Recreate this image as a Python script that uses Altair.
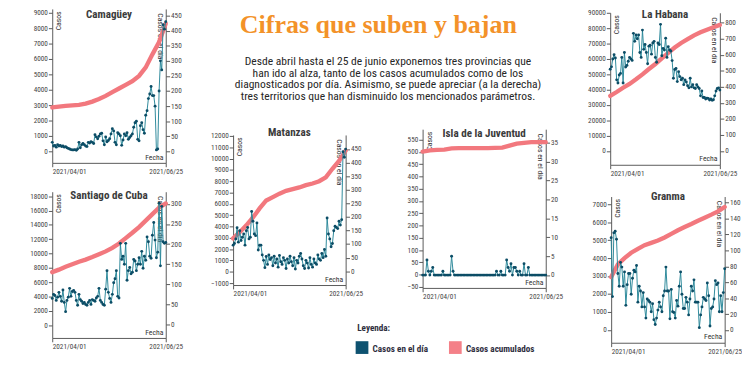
import altair as alt
import pandas as pd

START = "2021-04-01"
END = "2021-06-25"
CUM_EVERY = 5  # days between cumulative readings

# ---------------- data ----------------
cam_daily = [30, 18, 20, 14, 22, 18, 20, 16, 18, 14,
             16, 12, 10, 8, 6, 5, 5, 6, 4, 8,
             30, 12, 22, 26, 22, 18, 16, 30, 28, 32,
             30, 26, 55, 48, 42, 50, 58, 60, 35, 22,
             48, 32, 36, 42, 58, 75, 68, 30, 22, 62,
             58, 52, 20, 38, 58, 52, 62, 40, 46, 52,
             58, 80, 95, 100, 40, 35, 85, 95, 72, 60,
             120, 135, 175, 190, 215, 185, 185, 150, 5, 8,
             200, 300, 270, 420, 405, 430]
cam_cum = [2850, 2900, 2950, 2990, 3020, 3100, 3230, 3400, 3600, 3850,
           4080, 4320, 4560, 4900, 5450, 6300, 7100, 8300]

sant_daily = [65, 75, 72, 60, 68, 80, 70, 58, 86, 55,
              32, 60, 68, 90, 70, 82, 85, 80, 60, 48,
              75, 62, 58, 52, 55, 50, 48, 55, 60, 50,
              62, 60, 58, 66, 70, 90, 60, 55, 50, 48,
              88, 134, 80, 65, 55, 75, 104, 114, 134, 70,
              66, 202, 162, 170, 150, 202, 110, 134, 142, 126,
              130, 162, 158, 134, 150, 166, 150, 182, 140, 170,
              160, 218, 206, 170, 165, 222, 254, 210, 166, 180,
              302, 146, 294, 206, 202, 204]
sant_cum = [7400, 7750, 8150, 8500, 8850, 9150, 9500, 9900, 10300, 10800,
            11400, 12150, 12900, 13700, 14600, 15500, 16400, 17000]

mat_daily = [96, 102, 119, 160, 107, 149, 113, 125, 137, 96,
             149, 161, 119, 125, 220, 184, 137, 131, 178, 78,
             96, 96, 60, 40, 13, 54, 25, 60, 43, 50,
             20, 55, 30, 45, 15, 58, 35, 25, 50, 40,
             10, 45, 30, 55, 35, 20, 50, 8, 40, 30,
             55, 65, 45, 20, 10, 40, 30, 12, 50, 25,
             15, 45, 30, 25, 60, 45, 40, 65, 50, 80,
             55, 196, 137, 119, 90, 102, 149, 166, 161, 157,
             184, 170, 190, 440, 420, 450]
mat_cum = [2950, 3500, 4100, 4800, 5600, 6300, 6600, 6900, 7150, 7300,
           7450, 7650, 7800, 8000, 8350, 9100, 9800, 10700]

isla_daily = [0, 0, 0, 4, 1, 0, 1, 2, 0, 0,
              0, 0, 0, 0, 1, 0, 0, 0, 0, 0,
              5, 1, 0, 0, 0, 0, 0, 0, 0, 0,
              0, 0, 0, 0, 0, 0, 0, 0, 0, 0,
              0, 0, 0, 0, 0, 0, 0, 0, 0, 0,
              0, 1, 0, 0, 1, 0, 0, 0, 4, 2,
              1, 3, 0, 2, 2, 1, 0, 1, 0, 0,
              3, 0, 0, 2, 0, 0, 0, 0, 0, 0,
              0, 0, 0, 0, 0, 0]
isla_cum = [502, 507, 509, 510, 515, 516, 516, 516, 516, 516,
            517, 518, 526, 534, 537, 540, 540, 540]

hab_daily = [510, 525, 574, 600, 580, 444, 424, 474, 484, 584,
             424, 614, 524, 534, 560, 584, 575, 565, 734, 684,
             724, 700, 724, 614, 584, 754, 634, 664, 614, 544,
             654, 660, 604, 674, 684, 584, 554, 674, 664, 790,
             594, 640, 630, 704, 584, 650, 630, 624, 564, 454,
             508, 515, 433, 494, 464, 444, 454, 414, 444, 430,
             407, 394, 454, 400, 414, 394, 390, 414, 400, 390,
             344, 374, 334, 334, 324, 330, 328, 318, 325, 316,
             320, 344, 374, 390, 394, 380]
hab_cum = [36000, 38500, 41300, 43800, 46800, 50000, 53500, 56800, 60500, 64000,
           67500, 70500, 73000, 75500, 77500, 79200, 80800, 82300]

gran_daily = [116, 42, 122, 124, 114, 71, 55, 85, 79, 55,
              73, 31, 57, 71, 71, 45, 65, 75, 73, 81,
              35, 55, 49, 29, 47, 29, 15, 39, 37, 35,
              23, 33, 13, 7, 15, 25, 35, 29, 23, 43,
              49, 79, 49, 49, 14, 51, 23, 22, 15, 37,
              30, 55, 73, 45, 27, 27, 41, 35, 19, 39,
              55, 49, 63, 35, 35, 35, 3, 19, 29, 41,
              39, 37, 59, 43, 5, 27, 29, 39, 62, 57,
              59, 23, 43, 23, 47, 77]
gran_cum = [2950, 3650, 4000, 4300, 4520, 4720, 4850, 4980, 5150, 5350,
            5550, 5730, 5900, 6080, 6250, 6420, 6600, 6850]

TITLE = "Cifras que suben y bajan"
SUB_LINES = [
    "Desde abril hasta el 25 de junio exponemos tres provincias que",
    "han ido al alza, tanto de los casos acumulados como de los",
    "diagnosticados por día. Asimismo, se puede apreciar (a la derecha)",
    "tres territorios que han disminuido los mencionados parámetros.",
]
SERIES = ["Casos en el día", "Casos acumulados"]
LEGEND_COLORS = ["#0e5270", "#f48088"]

# ---------------- styles ----------------
TEAL_LINE = "#2a8799"
TEAL_PT = "#0c4d66"
PINK = "#f2787e"
COND = "Liberation Sans Narrow, Roboto Condensed, Arial Narrow, sans-serif"
AX = "#555555"
AXIS_STYLE = dict(labelFont=COND, titleFont=COND, labelFontSize=7.5, titleFontSize=8,
                  titleFontWeight="normal", labelColor="#444444", titleColor="#333333",
                  domainColor=AX, tickColor=AX, tickSize=4, grid=False, labelPadding=1)
NOFRAME = alt.ViewConfig(stroke=None)


def dt(s):
    y, m, d = map(int, s.split("-"))
    return alt.DateTime(year=y, month=m, date=d)


def panel(name, daily, cum, W, H, ldom, lticks, rdom, rticks, title_dy):
    dd = pd.DataFrame({"fecha": pd.date_range(START, periods=len(daily), freq="D"),
                       "casos": daily})
    cd = pd.DataFrame({"fecha": pd.date_range(START, periods=len(cum), freq=f"{CUM_EVERY}D"),
                       "casos": cum})
    xscale = alt.Scale(domain=[dt(START), dt(END)])
    xaxis = alt.Axis(values=[dt(START), dt(END)], format="%Y/%m/%d", title="Fecha",
                     labelAlign={"condition": {"test": "datum.index == 0", "value": "left"},
                                 "value": "center"},
                     titleX=W - 3, titleY=-2, titleAlign="right",
                     titleBaseline="bottom", labelOverlap=False, **AXIS_STYLE)
    cum_ch = alt.Chart(cd).mark_line(color=PINK, strokeWidth=4.5, strokeCap="round").encode(
        x=alt.X("fecha:T", scale=xscale, axis=xaxis),
        y=alt.Y("casos:Q", scale=alt.Scale(domain=ldom, nice=False, zero=False),
                axis=alt.Axis(values=lticks, format="d", title="Casos", titleAngle=270,
                              titleX=3, titleY=2, titleAlign="right", titleBaseline="top",
                              **AXIS_STYLE)),
    )
    daily_ch = alt.Chart(dd).mark_line(
        color=TEAL_LINE, strokeWidth=1,
        point=alt.OverlayMarkDef(filled=True, size=9, color=TEAL_PT, opacity=1),
    ).encode(
        x=alt.X("fecha:T", scale=xscale),
        y=alt.Y("casos:Q", scale=alt.Scale(domain=rdom, nice=False, zero=False),
                axis=alt.Axis(values=rticks, format="d", orient="right", title="Casos en el día",
                              titleAngle=90, titleX=-3, titleY=4, titleAlign="left",
                              titleBaseline="top", **AXIS_STYLE)),
    )
    title_ch = alt.Chart(pd.DataFrame({"t": [name]})).mark_text(
        font=COND, fontSize=11.5, fontWeight="bold", color="#3b3b3b", baseline="top"
    ).encode(x=alt.value(W / 2), y=alt.value(title_dy), text="t:N")
    return alt.layer(cum_ch, daily_ch, title_ch).resolve_scale(y="independent").properties(
        width=W, height=H)


def spacer():
    # invisible 1px block used only to offset the neighbouring panel
    return alt.Chart(pd.DataFrame({"t": [0]})).mark_rule(strokeOpacity=0).encode(
        x=alt.value(0), x2=alt.value(1), y=alt.value(0)
    ).properties(width=1, height=1, view=NOFRAME)


cam = panel("Camagüey", cam_daily, cam_cum, 118, 160, [-750, 9250], list(range(0, 9001, 1000)),
            [-38, 472], list(range(0, 451, 50)), 0)
sant = panel("Santiago de Cuba", sant_daily, sant_cum, 118, 152, [-1790, 18630],
             list(range(0, 18001, 2000)), [-33.5, 330.4], list(range(0, 301, 50)), -1)
mat = panel("Matanzas", mat_daily, mat_cum, 117, 156, [-1170, 12085],
            list(range(-1000, 12001, 1000)), [-51, 502], list(range(0, 451, 50)), -8)
isla = panel("Isla de la Juventud", isla_daily, isla_cum, 128, 165, [-54, 593],
             list(range(-50, 551, 50)), [-3.4, 38.6], list(range(0, 36, 5)), -1)
hab = panel("La Habana", hab_daily, hab_cum, 114, 158, [-8975, 90190],
            list(range(0, 90001, 10000)), [-86, 862], list(range(0, 801, 100)), -4)
gran = panel("Granma", gran_daily, gran_cum, 118, 152, [-712, 7428],
             list(range(0, 7001, 1000)), [-16, 167.6], list(range(0, 161, 20)), -5)

# header (title + description)
HW, HH = 315, 113
head_title = alt.Chart(pd.DataFrame({"t": [TITLE]})).mark_text(
    font="Liberation Serif, DejaVu Serif, serif", fontSize=27, fontWeight="bold",
    color="#f39229", baseline="middle"
).encode(x=alt.value(151), y=alt.value(17), text="t:N")
head_sub = alt.Chart(pd.DataFrame({"t": [0]})).mark_text(
    font=COND, fontSize=12, color="#262626", baseline="middle", lineHeight=12.3
).encode(x=alt.value(161), y=alt.value(54), text=alt.value(SUB_LINES))
header = alt.layer(head_title, head_sub).properties(width=HW, height=HH, view=NOFRAME)

# legend
leg_df = pd.DataFrame({"serie": SERIES})
leg_x = alt.X("serie:N", sort=SERIES, axis=None,
              scale=alt.Scale(type="point", range=[134, 231], padding=0))
leg_sq = alt.Chart(leg_df).mark_square(size=175, opacity=1).encode(
    x=leg_x, y=alt.value(26),
    color=alt.Color("serie:N", scale=alt.Scale(domain=SERIES, range=LEGEND_COLORS), legend=None))
leg_tx = alt.Chart(leg_df).mark_text(
    font=COND, fontSize=9.5, fontWeight="bold", color="#2e2e3e", align="left", dx=11
).encode(x=leg_x, y=alt.value(28), text="serie:N")
leg_title = alt.Chart(pd.DataFrame({"t": ["Leyenda:"]})).mark_text(
    font=COND, fontSize=9.5, fontWeight="bold", color="#2e2e3e", align="left"
).encode(x=alt.value(129), y=alt.value(6), text="t:N")
legend = alt.layer(leg_sq, leg_tx, leg_title).properties(width=HW, height=34, view=NOFRAME)

col1 = alt.vconcat(cam, sant, spacing=16)
mat_col = alt.vconcat(spacer(), mat, spacing=-3)
row2 = alt.hconcat(mat_col, isla, spacing=45)
col2 = alt.vconcat(alt.vconcat(header, row2, spacing=10), legend, spacing=23)
hab_col = alt.vconcat(spacer(), hab, spacing=-1)
gran_row = alt.hconcat(spacer(), gran, spacing=-29)
col3 = alt.vconcat(hab_col, gran_row, spacing=15)

left = alt.hconcat(col1, col2, spacing=28)
chart = alt.hconcat(left, col3, spacing=25).properties(
    padding={"left": 22, "top": -6, "right": 0, "bottom": 0},
    background="white",
).configure_view(stroke=None)

chart.save("out.html", embed_options={"renderer": "svg", "actions": False})
